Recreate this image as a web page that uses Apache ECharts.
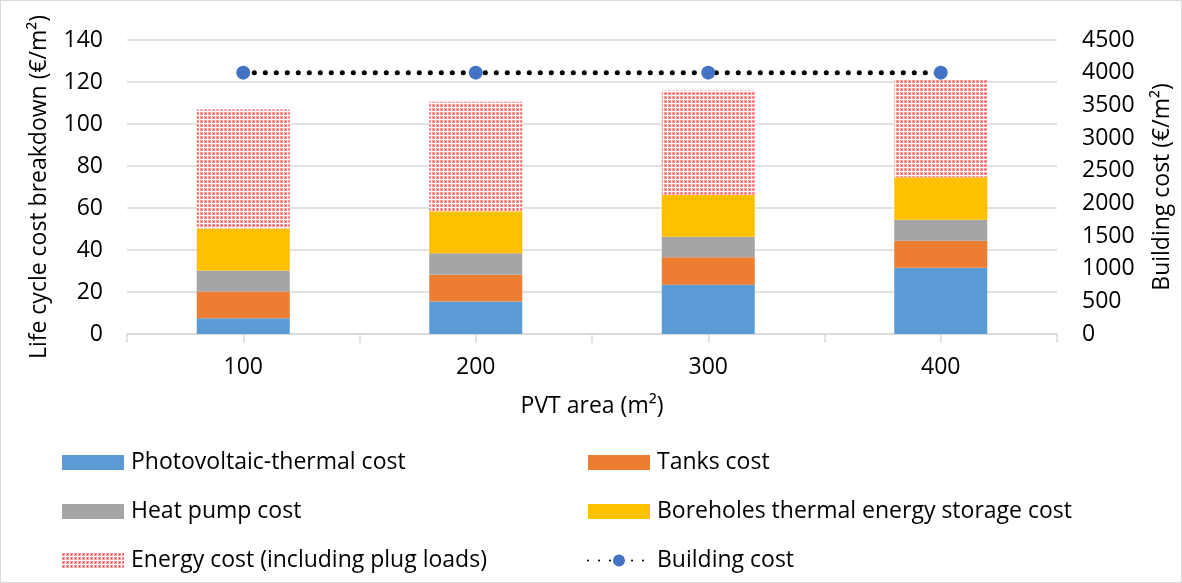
<!DOCTYPE html>
<html>
<head>
<meta charset="utf-8">
<script src="https://cdn.jsdelivr.net/npm/echarts@6/dist/echarts.min.js"></script>
<style>
html,body{margin:0;padding:0;background:#fff;}
#frame{position:absolute;left:0;top:0;width:1180px;height:581px;border:1px solid #d9d9d9;}
#chart{width:1182px;height:583px;}
</style>
</head>
<body>
<div id="chart"></div>
<div id="frame"></div>
<script>
const categories = ['100', '200', '300', '400'];
const pvtCost = [7.5, 15.5, 23.5, 31.6];
const tanksCost = [12.7, 12.7, 13.0, 12.8];
const heatPumpCost = [10.0, 10.2, 9.8, 10.0];
const btesCost = [20.0, 20.0, 20.0, 20.2];
const energyCost = [56.7, 52.2, 49.6, 46.5];
const buildingCost = [4000, 4000, 4000, 4000];

const FONT = 'Open Sans';
const FS = 23;

// dotted red fill pattern
const tile = document.createElement('canvas');
tile.width = 4; tile.height = 4;
const tc = tile.getContext('2d');
tc.fillStyle = '#ffffff'; tc.fillRect(0, 0, 4, 4);
tc.fillStyle = '#ff9a9a'; tc.fillRect(0, 0, 3, 3);
tc.fillStyle = '#ff2a2a'; tc.fillRect(1, 1, 1, 1);
const energyFill = { image: tile, repeat: 'repeat' };

const chart = echarts.init(document.getElementById('chart'));
const txt = { fontFamily: FONT, fontSize: FS, color: '#000' };

chart.setOption({
  animation: false,
  grid: { left: 127, right: 124, top: 40, bottom: 249 },
  xAxis: [{
    type: 'category', data: categories,
    axisLine: { lineStyle: { color: '#d9d9d9', width: 1.5 } },
    axisTick: { show: true, length: 9, lineStyle: { color: '#d9d9d9', width: 1.5 } },
    axisLabel: Object.assign({ margin: 22 }, txt),
    name: 'PVT area (m²)', nameLocation: 'middle', nameGap: 61,
    nameTextStyle: txt
  }, {
    type: 'category', data: categories, position: 'bottom',
    axisLine: { show: false },
    axisTick: { show: true, alignWithLabel: true, length: 9, lineStyle: { color: '#d9d9d9', width: 1.5 } },
    axisLabel: { show: false }
  }],
  yAxis: [{
    type: 'value', min: 0, max: 140, interval: 20,
    axisLine: { show: false }, axisTick: { show: false },
    splitLine: { lineStyle: { color: '#d9d9d9', width: 1.5 } },
    axisLabel: Object.assign({ margin: 24 }, txt),
    name: 'Life cycle cost breakdown (€/m²)', nameLocation: 'middle', nameGap: 76,
    nameTextStyle: txt
  }, {
    type: 'value', min: 0, max: 4500, interval: 500,
    axisLine: { show: false }, axisTick: { show: false },
    splitLine: { show: false },
    axisLabel: Object.assign({ margin: 25, formatter: v => String(v) }, txt),
    name: 'Building cost (€/m²)', nameLocation: 'middle', nameGap: 94,
    nameTextStyle: txt
  }],
  legend: [{
    orient: 'vertical', left: 62, top: 451, padding: 0, itemWidth: 62, itemHeight: 15, itemGap: 26,
    icon: 'rect',
    textStyle: Object.assign({ lineHeight: 23, padding: [0, 0, 0, 2] }, txt),
    data: ['Photovoltaic-thermal cost', 'Heat pump cost', 'Energy cost (including plug loads)']
  }, {
    orient: 'vertical', left: 587, top: 451, padding: 0, itemWidth: 62, itemHeight: 15, itemGap: 26,
    textStyle: Object.assign({ lineHeight: 23, padding: [0, 0, 0, 2] }, txt),
    data: [{ name: 'Tanks cost', icon: 'rect' }, { name: 'Boreholes thermal energy storage cost', icon: 'rect' }, 'Building cost']
  }],
  series: [
    { name: 'Photovoltaic-thermal cost', type: 'bar', stack: 'lc', data: pvtCost, barCategoryGap: '60%', itemStyle: { color: '#5b9bd5' } },
    { name: 'Tanks cost', type: 'bar', stack: 'lc', data: tanksCost, itemStyle: { color: '#ed7d31' } },
    { name: 'Heat pump cost', type: 'bar', stack: 'lc', data: heatPumpCost, itemStyle: { color: '#a5a5a5' } },
    { name: 'Boreholes thermal energy storage cost', type: 'bar', stack: 'lc', data: btesCost, itemStyle: { color: '#ffc000' } },
    { name: 'Energy cost (including plug loads)', type: 'bar', stack: 'lc', data: energyCost, itemStyle: { color: energyFill } },
    {
      name: 'Building cost', type: 'line', yAxisIndex: 1, data: buildingCost,
      symbol: 'circle', symbolSize: 14,
      itemStyle: { color: '#4472c4' },
      lineStyle: { color: '#000', width: 5, type: [0.1, 10.9], cap: 'round' }
    }
  ]
});
</script>
</body>
</html>
